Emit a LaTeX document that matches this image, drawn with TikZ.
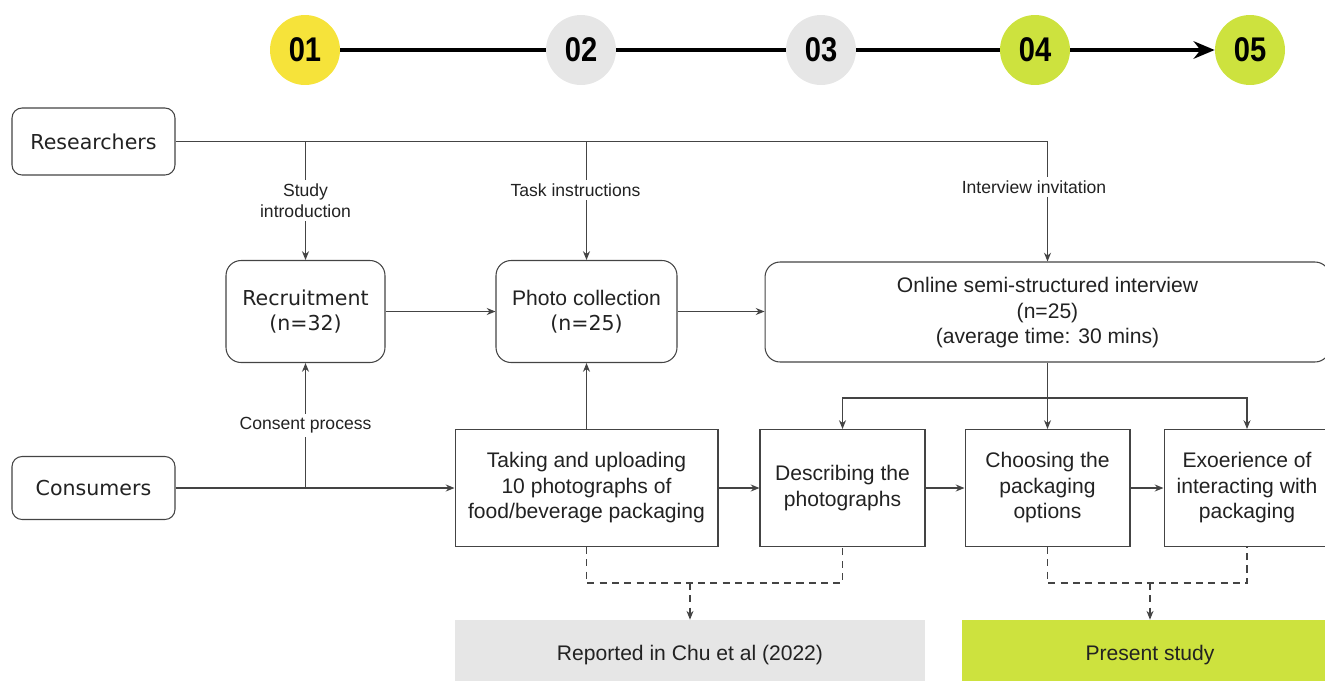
\documentclass[tikz,border=0pt]{standalone}
\usepackage{fontspec}
\setmainfont{Liberation Sans}
\newfontfamily\verd{DejaVu Sans}
\newfontfamily\numfont[FakeStretch=0.85]{Liberation Sans}
\usetikzlibrary{arrows.meta}

\definecolor{yel}{HTML}{F6E33A}
\definecolor{lgray}{HTML}{E6E6E6}
\definecolor{lime}{HTML}{CDE23E}
\definecolor{edge}{HTML}{444444}
\definecolor{ink}{HTML}{222222}

\tikzset{
  num/.style={circle,minimum size=1.4cm,inner sep=0pt,text=black,
    font=\numfont\bfseries\fontsize{19.5}{19.5}\selectfont},
  rbox/.style={draw=edge,line width=0.6pt,rounded corners=0.3cm,align=center,
    inner sep=0pt,text=ink,font=\fontsize{12}{14.5}\selectfont},
  vbox/.style={rbox,font=\verd\fontsize{11.7}{14.2}\selectfont},
  sbox/.style={draw=edge,line width=0.6pt,align=center,inner sep=0pt,text=ink,
    minimum height=2.34cm,font=\fontsize{12}{14.5}\selectfont},
  fbox/.style={minimum height=1.4cm,inner sep=0pt,text=ink,
    font=\fontsize{12}{14.5}\selectfont},
  lbl/.style={fill=white,align=center,inner sep=2pt,text=ink,
    font=\fontsize{10}{12}\selectfont},
  link/.style={draw=edge,line width=0.6pt},
  conn/.style={link,-{Stealth[length=5pt,width=4pt]}},
  dconn/.style={link,dash pattern=on 4pt off 3pt},
  tline/.style={line width=1.8pt,black}
}

\begin{document}
\begin{tikzpicture}[x=0.02cm,y=-0.02cm]
\useasboundingbox (0,0) rectangle (1325,680);

\node[num,fill=yel] (n01) at (305,50) {01};
\node[num,fill=lgray] (n02) at (581,50) {02};
\node[num,fill=lgray] (n03) at (821,50) {03};
\node[num,fill=lime] (n04) at (1035,50) {04};
\node[num,fill=lime] (n05) at (1250,50) {05};
\draw[tline] (n01) -- (n02);
\draw[tline] (n02) -- (n03);
\draw[tline] (n03) -- (n04);
\draw[tline,-{Stealth[length=12pt,width=10pt]}] (n04) -- (n05);

\node[vbox,rounded corners=0.2cm,minimum width=3.26cm,minimum height=1.34cm] (res) at (93.5,141.5) {Researchers};
\node[vbox,rounded corners=0.2cm,minimum width=3.26cm,minimum height=1.26cm] (con) at (93.5,488) {Consumers};

\node[vbox,minimum width=3.18cm,minimum height=2.04cm] (rec) at (305.5,311.5) {Recruitment\\(n=32)};
\node[rbox,minimum width=3.62cm,minimum height=2.04cm] (pho) at (586.5,311.5) {Photo collection\\{\verd\fontsize{11.7}{14.2}\selectfont (n=25)}};
\node[rbox,minimum width=11.3cm,minimum height=2cm,text depth=0.06cm] (int) at (1047.5,312) {Online semi-structured interview\\(n=25)\\(average time: 30 mins)};

\node[sbox,minimum width=5.26cm] (take) at (586.5,488) {Taking and uploading\\10 photographs of\\food/beverage packaging};
\node[sbox,minimum width=3.3cm] (desc) at (842.5,488) {Describing the\\photographs};
\node[sbox,minimum width=3.3cm] (cho) at (1047.5,488) {Choosing the\\packaging\\options};
\node[sbox,minimum width=3.32cm] (exo) at (1247,488) {Exoerience of\\interacting with\\packaging};

\node[fbox,fill=lgray,minimum width=9.4cm] (rep) at (690,655) {Reported in Chu et al (2022)};
\node[fbox,fill=lime,minimum width=7.52cm] (pre) at (1150,655) {Present study};

\draw[link] (res.east) -- (res.east -| int.north);
\draw[conn] (res.east -| rec.north) -- node[lbl]{Study\\introduction} (rec.north);
\draw[conn] (res.east -| pho.north) -- node[lbl,pos=0.41,xshift=-0.22cm]{Task instructions} (pho.north);
\draw[conn] (res.east -| int.north) -- node[lbl,pos=0.38,xshift=-0.27cm]{Interview invitation} (int.north);

\draw[conn] (rec) -- (pho);
\draw[conn] (pho.east) -- (pho.east -| int.west);
\draw[conn] (con) -- (take);
\draw[conn] (con.east -| rec.south) -- node[lbl]{Consent process} (rec.south);
\draw[conn] (take) -- (pho);
\draw[conn] (take) -- (desc);
\draw[conn] (desc) -- (cho);
\draw[conn] (cho) -- (exo);

\coordinate (split) at (1047.5,398);
\draw[conn] (int.south) -- (cho.north);
\draw[conn] (split) -| (desc.north);
\draw[conn] (split) -| (exo.north);

\coordinate (jn1) at (690,583);
\coordinate (jn2) at (1150,583);
\draw[dconn] (take.south) |- (jn1) -| (desc.south);
\draw[dconn,-{Stealth[length=5pt,width=4pt]}] (jn1) -- (rep.north);
\draw[dconn] (cho.south) |- (jn2) -| (exo.south);
\draw[dconn,-{Stealth[length=5pt,width=4pt]}] (jn2) -- (pre.north);
\end{tikzpicture}
\end{document}
